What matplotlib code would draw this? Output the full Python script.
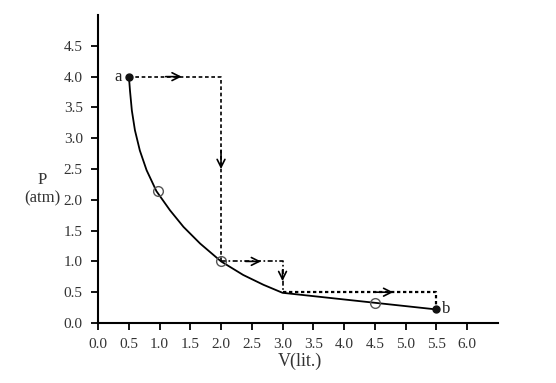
import matplotlib.pyplot as plt

plt.rcParams['font.family'] = ['Liberation Serif', 'DejaVu Serif']

# curve a -> b
curve_v = [0.5, 0.51, 0.52, 0.55, 0.6, 0.68, 0.79, 0.95, 1.17, 1.39, 1.66, 2.0, 2.36, 2.69, 3.0, 5.5]
curve_p = [4.0, 3.9, 3.77, 3.45, 3.13, 2.8, 2.48, 2.14, 1.83, 1.56, 1.29, 1.0, 0.78, 0.62, 0.49, 0.22]

# step paths
path1_v = [0.5, 2.0, 2.0]
path1_p = [4.0, 4.0, 1.0]
path2_v = [2.0, 3.0, 3.0]
path2_p = [1.0, 1.0, 0.5]
path3_v = [3.0, 5.5, 5.5]
path3_p = [0.5, 0.5, 0.22]

open_v = [0.97, 2.0, 4.5]
open_p = [2.15, 1.0, 0.33]
end_v = [0.5, 5.5]
end_p = [4.0, 0.22]
end_labels = ['a', 'b']

xticks = [0.0, 0.5, 1.0, 1.5, 2.0, 2.5, 3.0, 3.5, 4.0, 4.5, 5.0, 5.5, 6.0]
yticks = [0.0, 0.5, 1.0, 1.5, 2.0, 2.5, 3.0, 3.5, 4.0, 4.5]

fig = plt.figure(figsize=(5.56, 3.83), dpi=100)
ax = fig.add_axes([0.1763, 0.1567, 0.719, 0.804])

ax.plot(curve_v, curve_p, color='black', lw=1.3, zorder=3)
ax.plot(path1_v, path1_p, color='black', lw=1.2, linestyle=(0, (2.2, 1.6)))
ax.plot(path2_v, path2_p, color='black', lw=1.2, linestyle=(0, (3, 1.5, 1, 1.5)))
ax.plot(path3_v, path3_p, color='black', lw=1.6, linestyle=(0, (1.5, 1.2)))

arrows = [((1.1, 4.0), (1.36, 4.0)), ((2.0, 2.8), (2.0, 2.5)),
          ((2.4, 1.0), (2.65, 1.0)), ((3.0, 0.86), (3.0, 0.68)),
          ((4.5, 0.5), (4.8, 0.5))]
for start, tip in arrows:
    ax.annotate('', xy=tip, xytext=start,
                arrowprops=dict(arrowstyle='->', color='black', lw=1.2,
                                mutation_scale=14, shrinkA=0, shrinkB=0))

ax.plot(open_v, open_p, 'o', mfc='none', mec='#555555', ms=7, mew=1, zorder=4)
ax.plot(end_v, end_p, 'o', color='#111111', ms=5, zorder=5)
ax.annotate(end_labels[0], (end_v[0], end_p[0]), xytext=(-8, 0), textcoords='offset points',
            ha='center', va='center', fontsize=12, color='#222222')
ax.annotate(end_labels[1], (end_v[1], end_p[1]), xytext=(7, 0), textcoords='offset points',
            ha='center', va='center', fontsize=12, color='#222222')

ax.set_xlim(0, 6.5)
ax.set_ylim(0, 5.0)
ax.set_xticks(xticks)
ax.set_yticks(yticks)
ax.set_xticklabels(['%.1f' % t for t in xticks])
ax.set_yticklabels(['%.1f' % t for t in yticks])
ax.tick_params(direction='out', length=5, width=1.3, labelsize=11, colors='black',
               labelcolor='#333333')
ax.tick_params(axis='y', pad=6)
ax.tick_params(axis='x', pad=6)
for side in ['top', 'right']:
    ax.spines[side].set_visible(False)
for side in ['left', 'bottom']:
    ax.spines[side].set_linewidth(1.5)

fig.text(42 / 556, 1 - 180 / 383, 'P', ha='center', va='center', fontsize=12, color='#333333')
fig.text(42 / 556, 1 - 198 / 383, '(atm)', ha='center', va='center', fontsize=12, color='#333333')
fig.text(300 / 556, 1 - 361 / 383, 'V(lit.)', ha='center', va='center', fontsize=13, color='#333333')

fig.savefig('out.png', dpi=100)
